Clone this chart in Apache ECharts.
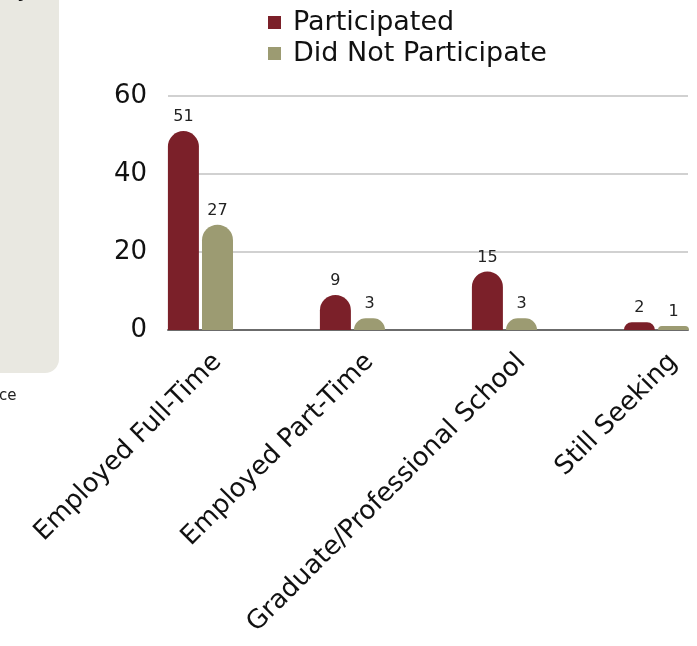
<!DOCTYPE html>
<html>
<head>
<meta charset="utf-8">
<script src="https://cdn.jsdelivr.net/npm/echarts@6/dist/echarts.min.js"></script>
<style>
html,body{margin:0;padding:0;background:#fff;}
#chart{width:697px;height:646px;}
</style>
</head>
<body>
<div id="chart"></div>
<script>
var categories = ['Employed Full-Time', 'Employed Part-Time', 'Graduate/Professional School', 'Still Seeking'];
var participated = [51, 9, 15, 2];
var didNotParticipate = [27, 3, 3, 1];
var seriesNames = ['Participated', 'Did Not Participate'];
var yTicks = [0, 20, 40, 60];

var FONT = '"DejaVu Sans", sans-serif';
var chart = echarts.init(document.getElementById('chart'));
var labelCfg = {show: true, position: 'top', distance: 6, color: '#222', fontSize: 16, fontFamily: FONT};
chart.setOption({
  animation: false,
  textStyle: {fontFamily: FONT},
  graphic: [
    {type: 'rect', shape: {x: -20, y: -20, width: 79, height: 393, r: 14}, style: {fill: '#e9e8e1'}, z: -10},
    {type: 'text', left: 17, top: -17, style: {text: 'y)', font: 'bold 18px "DejaVu Sans"', fill: '#111'}},
    {type: 'text', left: -1, top: 389, style: {text: 'ce', font: '15px "DejaVu Sans"', fill: '#222'}}
  ],
  legend: {
    orient: 'vertical', left: 263, top: 4, data: seriesNames,
    icon: 'rect', itemWidth: 13, itemHeight: 13, itemGap: 4,
    textStyle: {fontSize: 27, color: '#111', fontFamily: FONT, padding: [0, 0, 0, 7]}
  },
  grid: [
    {left: 168, top: 96, width: 520, height: 234, outerBoundsMode: 'none', containLabel: false},
    {left: 141.5, top: 96, width: 608, height: 234, outerBoundsMode: 'none', containLabel: false}
  ],
  xAxis: [
    {gridIndex: 0, type: 'category', data: categories, axisLine: {lineStyle: {color: '#6b6b6b', width: 2}}, axisTick: {show: false}, axisLabel: {show: false}},
    {gridIndex: 1, type: 'category', data: categories, axisLine: {show: false}, axisTick: {show: false},
     axisLabel: {rotate: 45, margin: 28, fontSize: 26, color: '#111', fontFamily: FONT, interval: 0, hideOverlap: false}}
  ],
  yAxis: [
    {gridIndex: 0, type: 'value', min: yTicks[0], max: yTicks[yTicks.length - 1], interval: 20,
     axisLine: {show: false}, axisTick: {show: false},
     axisLabel: {fontSize: 26, color: '#111', margin: 21, fontFamily: FONT},
     splitLine: {lineStyle: {color: '#c2c2c2', width: 1.5}}},
    {gridIndex: 1, type: 'value', min: 0, max: 60, show: false, splitLine: {show: false}}
  ],
  series: [
    {name: seriesNames[0], type: 'bar', xAxisIndex: 1, yAxisIndex: 1, data: participated, barWidth: 31, barGap: '10%',
     itemStyle: {color: '#7b2029', borderRadius: [16, 16, 0, 0]}, label: labelCfg},
    {name: seriesNames[1], type: 'bar', xAxisIndex: 1, yAxisIndex: 1, data: didNotParticipate, barWidth: 31, barGap: '10%',
     itemStyle: {color: '#9c9b72', borderRadius: [16, 16, 0, 0]}, label: labelCfg},
    {name: 'spacer', type: 'bar', xAxisIndex: 1, yAxisIndex: 1, data: ['-', '-', '-', '-'], barWidth: 31, barGap: '10%', silent: true}
  ]
});
</script>
</body>
</html>
